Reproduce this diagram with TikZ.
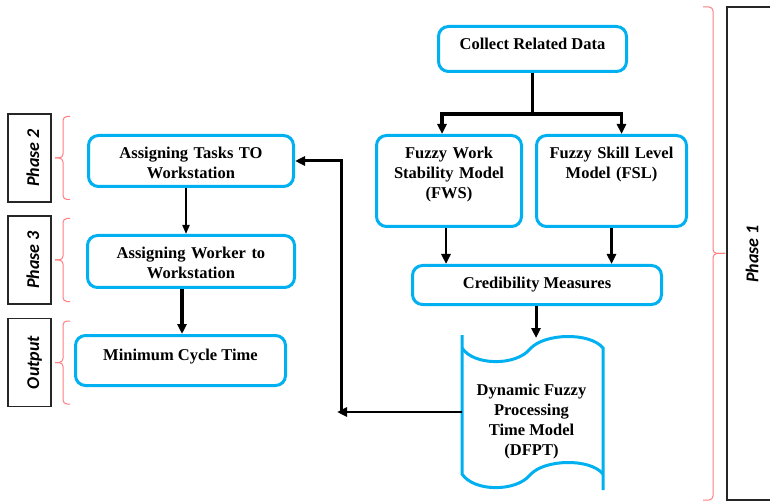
\documentclass[tikz,border=0pt]{standalone}
\usepackage{fontspec}
\setmainfont{Liberation Serif}
\newfontfamily\phasefont{Carlito}
\usetikzlibrary{positioning, arrows.meta}
\definecolor{boxblue}{HTML}{00B0F0}
\definecolor{bracered}{HTML}{FF7C80}
\tikzset{
  boxfont/.style={font=\fontsize{16.5}{20}\selectfont\bfseries},
  flowbox/.style={boxfont, draw=boxblue, line width=3pt, rounded corners=10pt, align=center, inner sep=0pt},
  phasetext/.style={font=\phasefont\fontsize{18}{20}\selectfont\bfseries\itshape, rotate=90},
  phasebox/.style={phasetext, draw=black!85, line width=1.3pt, inner sep=0pt, minimum width=88pt, minimum height=43pt, text height=23pt, text depth=4pt},
  redbrace/.style={draw=bracered, line width=1pt, rounded corners=4pt},
  flowarrow/.style={line width=#1, -{Triangle[length=10pt, width=9pt]}},
  flowarrow/.default=3pt
}
% #1 x of the hooks, #2 x of the stem, #3 x of the tip, #4 top, #5 bottom
\newcommand\redbracket[5]{
  \draw[redbrace] (#1, #4) -- (#2, #4) -- (#2, {(#4+#5)/2}) -- (#3, {(#4+#5)/2});
  \draw[redbrace] (#1, #5) -- (#2, #5) -- (#2, {(#4+#5)/2}) -- (#3, {(#4+#5)/2});
}
\newcommand\phasetag[3]{
  \node[phasebox] (#1) at (29.5, #2) {#3};
  \redbracket{70}{63}{55}{#2-41.5}{#2+41.5}
}
\begin{document}
\begin{tikzpicture}[x=1pt, y=-1pt]
  \useasboundingbox (0,0) rectangle (770,502);
  \clip (0,0) rectangle (770,502);

  \node[flowbox, minimum width=188pt, text height=23pt, text depth=22pt] (collect) at (532.5,49) {Collect Related Data};
  \node[flowbox, text width=145pt, text height=23pt, text depth=68pt] (fws) at (449,181) {Fuzzy Work\\ Stability Model\\ (FWS)};
  \node[flowbox, text width=150pt, text height=23pt, text depth=68pt] (fsl) at (611.5,181) {Fuzzy Skill Level\\ Model (FSL)};
  \node[flowbox, minimum width=249pt, text height=23pt, text depth=16pt] (cred) at (537,285) {Credibility Measures};
  \node[boxfont, align=center] (dfpt) at (531.5,422) {Dynamic Fuzzy\\ Processing\\ Time Model\\ (DFPT)};
  \draw[boxblue, line width=3pt] (462,335) -- (462,474) .. controls (474,492) and (516,492) .. (530,475) .. controls (544,459) and (590,458) .. (603,474);
  \draw[boxblue, line width=3pt] (462,348) .. controls (474,366) and (516,366) .. (530,349) .. controls (544,333) and (590,332) .. (603,348) -- (603,490);

  \node[flowbox, text width=205pt, text height=23pt, text depth=28pt] (tasks) at (191,161) {Assigning Tasks TO\\ Workstation};
  \node[flowbox, text width=207pt, text height=23pt, text depth=29pt] (worker) at (191,261.5) {Assigning Worker to\\ Workstation};
  \node[flowbox, minimum width=210pt, text height=25pt, text depth=25pt] (mincycle) at (180.5,360.5) {Minimum Cycle Time};

  \phasetag{phase2}{158}{Phase 2}
  \phasetag{phase3}{260}{Phase 3}
  \phasetag{output}{362.5}{Output}

  \draw[draw=black!85, line width=1.3pt] (780,7) -- (727,7) -- (727,500) -- (780,500);
  \node[phasetext] (phase1) at (752,254) {Phase 1};
  \redbracket{703}{713}{725}{7}{500}

  \draw[flowarrow=3.2pt] (collect.south) -- ++(0,41) -| ([xshift=-7pt]fws.north);
  \draw[flowarrow=3.2pt] (collect.south) -- ++(0,41) -| ([xshift=10pt]fsl.north);
  \draw[flowarrow=2.5pt] ([xshift=-3pt]fws.south) -- ([xshift=-3pt]fws.south |- cred.north);
  \draw[flowarrow=2.5pt] (fsl.south) -- (fsl.south |- cred.north);
  \coordinate (dfpttop) at (536,338);
  \draw[flowarrow=3pt] ([xshift=-1pt]cred.south) -- (dfpttop);

  \draw[line width=2pt, -{Triangle[length=9pt, width=7pt]}] ([xshift=-5pt]tasks.south) -- ([xshift=-5pt]tasks.south |- worker.north);
  \draw[flowarrow=3.5pt] ([xshift=-9pt]worker.south) -- ([xshift=-9pt]worker.south |- mincycle.north);

  \coordinate (dfptwest) at (462,412);
  \coordinate (bend) at (341,412);
  \draw[flowarrow=2.7pt] (dfptwest) -- ([xshift=-4pt]bend);
  \draw[flowarrow=3pt] (bend) |- (tasks.east);
\end{tikzpicture}
\end{document}
